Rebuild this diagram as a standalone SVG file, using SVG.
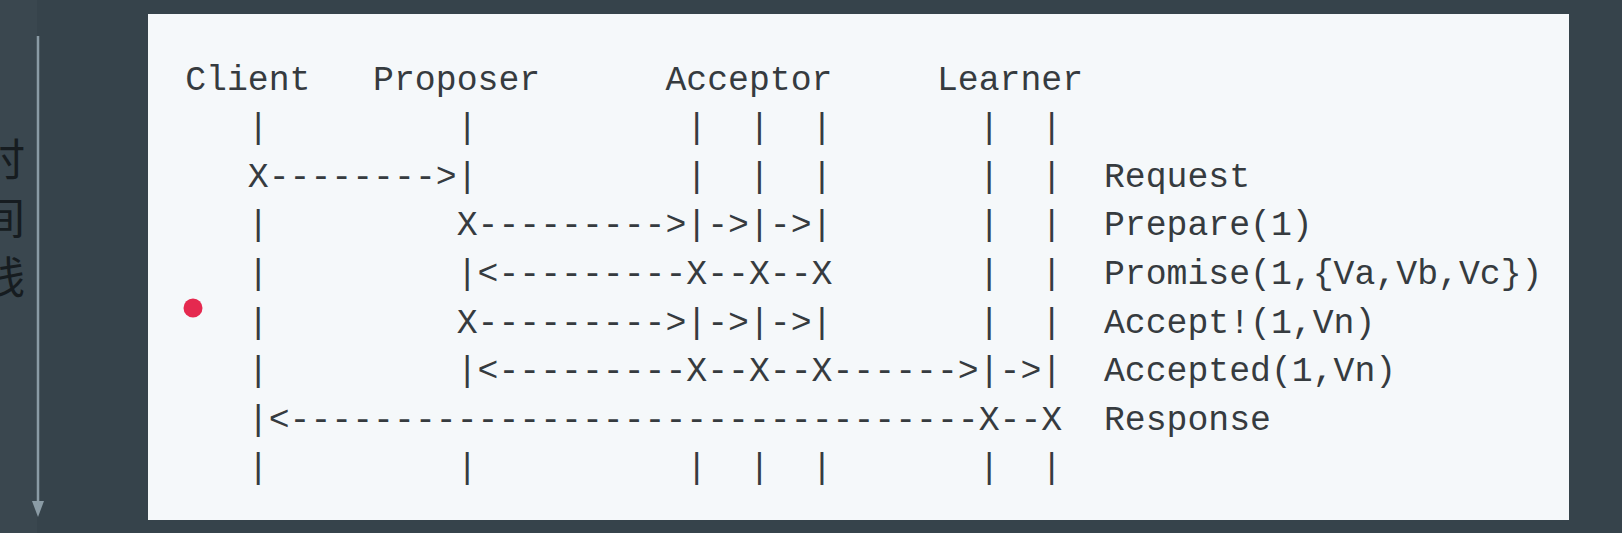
<svg xmlns="http://www.w3.org/2000/svg" width="1622" height="533" viewBox="0 0 1622 533">
<style>
.m{font-family:"Liberation Mono","DejaVu Sans Mono",monospace;font-size:34.8px;fill:#363b3f;white-space:pre}
.cjk{font-family:"Noto Sans CJK SC",sans-serif;font-size:44px;fill:#161c20}
</style>
<rect x="0" y="0" width="1622" height="533" fill="#36434b"/>
<rect x="0" y="0" width="37" height="533" fill="#3a474f"/>
<g id="timeline">
<text class="cjk" x="-19" y="176">时</text>
<text class="cjk" x="-19" y="235">间</text>
<text class="cjk" x="-19" y="294">线</text>
<line x1="38" y1="36" x2="38" y2="504" stroke="#8a9ba5" stroke-width="2.5"/>
<path d="M32,501 L44,501 L38,517 Z" fill="#8a9ba5"/>
</g>
<rect id="panel" x="148" y="14" width="1421" height="506" fill="#f5f8fa"/>
<circle id="pointer" cx="193" cy="308" r="9.5" fill="#e5294f"/>
<g id="node-client">
<text class="m" x="185.2" y="89.5">Client</text>
<text class="m"><tspan x="247.84" y="138.1">|</tspan><tspan x="247.84" y="235.3">|</tspan><tspan x="247.84" y="283.9">|</tspan><tspan x="247.84" y="332.5">|</tspan><tspan x="247.84" y="381.1">|</tspan><tspan x="247.84" y="478.3">|</tspan></text>
</g>
<g id="node-proposer">
<text class="m" x="373.12" y="89.5">Proposer</text>
<text class="m"><tspan x="456.64" y="138.1">|</tspan><tspan x="456.64" y="478.3">|</tspan></text>
</g>
<g id="node-acceptor">
<text class="m" x="665.44" y="89.5">Acceptor</text>
<text class="m"><tspan x="686.32" y="138.1">|  |  |</tspan><tspan x="686.32" y="186.7">|  |  |</tspan><tspan x="686.32" y="478.3">|  |  |</tspan></text>
</g>
<g id="node-learner">
<text class="m" x="936.88" y="89.5">Learner</text>
<text class="m"><tspan x="978.64" y="138.1">|  |</tspan><tspan x="978.64" y="186.7">|  |</tspan><tspan x="978.64" y="235.3">|  |</tspan><tspan x="978.64" y="283.9">|  |</tspan><tspan x="978.64" y="332.5">|  |</tspan><tspan x="978.64" y="478.3">|  |</tspan></text>
</g>
<g id="connectors">
<text class="m" x="247.84" y="186.7">X--------&gt;|</text>
<text class="m" x="456.64" y="235.3">X---------&gt;|-&gt;|-&gt;|</text>
<text class="m" x="456.64" y="283.9">|&lt;---------X--X--X</text>
<text class="m" x="456.64" y="332.5">X---------&gt;|-&gt;|-&gt;|</text>
<text class="m" x="456.64" y="381.1">|&lt;---------X--X--X------&gt;|-&gt;|</text>
<text class="m" x="247.84" y="429.7">|&lt;---------------------------------X--X</text>
</g>
<g id="labels">
<text class="m" x="1103.92" y="186.7">Request</text>
<text class="m" x="1103.92" y="235.3">Prepare(1)</text>
<text class="m" x="1103.92" y="283.9">Promise(1,{Va,Vb,Vc})</text>
<text class="m" x="1103.92" y="332.5">Accept!(1,Vn)</text>
<text class="m" x="1103.92" y="381.1">Accepted(1,Vn)</text>
<text class="m" x="1103.92" y="429.7">Response</text>
</g>
</svg>
